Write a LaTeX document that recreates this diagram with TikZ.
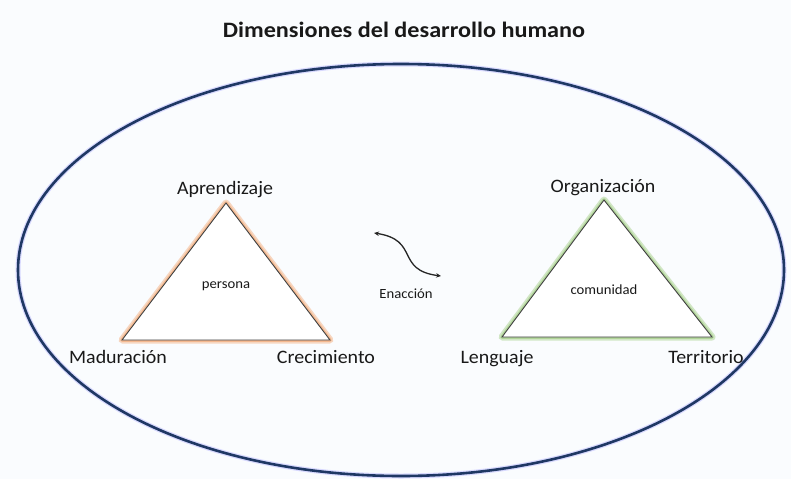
\documentclass[tikz,border=0pt]{standalone}
\usepackage{fontspec}
\setmainfont{Carlito}
\usetikzlibrary{arrows.meta}
\definecolor{navy}{HTML}{1F3864}
\definecolor{bgc}{HTML}{FAFCFE}
\definecolor{glowor}{HTML}{F4B183}
\definecolor{glowgr}{HTML}{A9D18E}
\definecolor{tri}{HTML}{404040}
\tikzset{
  lbl/.style={font=\fontsize{19}{21}\selectfont, text=black!90, inner sep=0pt, xscale=1.05, anchor=base},
  small/.style={font=\fontsize{14}{16}\selectfont, text=black!90, inner sep=0pt, xscale=1.05, anchor=base},
  glowline/.style={line width=7pt, opacity=0.5, line join=round},
  glowin/.style={line width=3.5pt, opacity=0.8, line join=round},
  triline/.style={draw=tri, line width=0.9pt, line join=miter},
}
\begin{document}
\begin{tikzpicture}[x=1pt,y=-1pt]
\fill[bgc] (0,0) rectangle (791,479);
\useasboundingbox (0,0) rectangle (791,479);
% outer ellipse
\draw[blue!40, line width=5pt, opacity=0.35] (401,270) ellipse [x radius=383, y radius=206];
\draw[navy, line width=2.6pt] (401,270) ellipse [x radius=383, y radius=206];
\node[font=\bfseries\fontsize{22}{24}\selectfont, text=black!90, xscale=1.1] (title) at (404,30) {Dimensiones del desarrollo humano};
% left triangle
\coordinate (la) at (226,203);
\coordinate (lb) at (122,340);
\coordinate (lc) at (330,340);
\draw[glowor, glowline] (la) -- (lb) -- (lc) -- cycle;
\draw[glowor, glowin] (la) -- (lb) -- (lc) -- cycle;
\filldraw[fill=white, triline] (la) -- (lb) -- (lc) -- cycle;
% right triangle
\coordinate (ra) at (604,200);
\coordinate (rb) at (502,337);
\coordinate (rc) at (712,337);
\draw[glowgr, glowline] (ra) -- (rb) -- (rc) -- cycle;
\draw[glowgr, glowin] (ra) -- (rb) -- (rc) -- cycle;
\filldraw[fill=white, triline] (ra) -- (rb) -- (rc) -- cycle;
% labels
\node[lbl] (apr) at (225,194) {Aprendizaje};
\node[lbl] (mad) at (118,363) {Maduración};
\node[lbl] (cre) at (326,363) {Crecimiento};
\node[lbl] (org) at (603,192) {Organización};
\node[lbl] (len) at (497,363) {Lenguaje};
\node[lbl] (ter) at (706,363) {Territorio};
\node[small] (per) at (226,288) {persona};
\node[small] (com) at (604,294) {comunidad};
\node[small] (ena) at (406,298) {Enacción};
% enaction arrow
\coordinate (e1) at (374,233);
\coordinate (e2) at (441,276);
\draw[black!85, line width=1.3pt, {Stealth[length=5pt,width=4.5pt]}-{Stealth[length=5pt,width=4.5pt]}]
  (e1) .. controls (420,240) and (395,270) .. (e2);
\end{tikzpicture}
\end{document}
